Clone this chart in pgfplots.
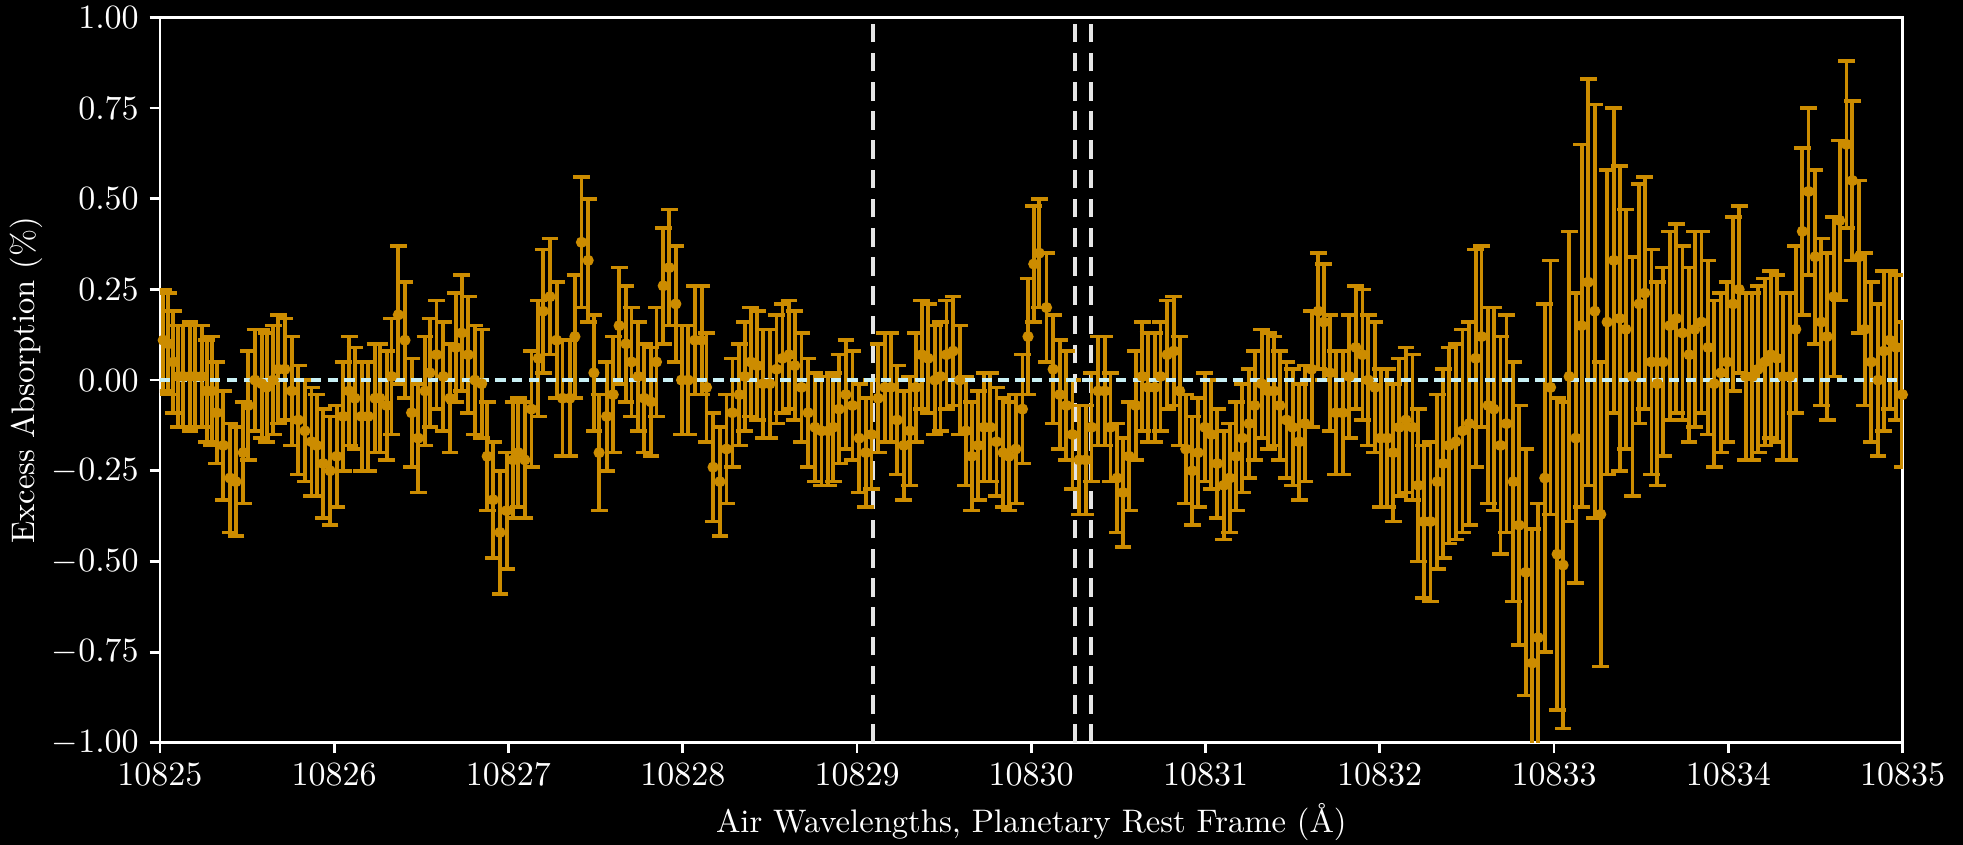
\documentclass[border=0pt]{standalone}
\usepackage{pgfplots}
\pgfplotsset{compat=1.18}
\usepackage{pgfplotstable}
\definecolor{barorange}{HTML}{CC8C00}
\definecolor{zerocyan}{HTML}{C8F0F5}
\definecolor{vline}{HTML}{E6E6E6}
\pgfplotstableread{
x y e
10825.019 0.11 0.14
10825.048 0.10 0.14
10825.077 0.05 0.14
10825.106 0.01 0.14
10825.134 0.01 0.14
10825.172 0.01 0.15
10825.201 0.01 0.14
10825.239 0.01 0.14
10825.268 -0.03 0.14
10825.297 -0.03 0.15
10825.325 -0.09 0.14
10825.364 -0.18 0.15
10825.402 -0.27 0.15
10825.436 -0.28 0.15
10825.478 -0.20 0.14
10825.507 -0.07 0.15
10825.545 0.00 0.14
10825.584 -0.01 0.15
10825.612 -0.02 0.15
10825.650 0.00 0.15
10825.679 0.03 0.15
10825.717 0.03 0.14
10825.756 -0.03 0.15
10825.794 -0.11 0.15
10825.832 -0.14 0.14
10825.870 -0.17 0.15
10825.899 -0.18 0.14
10825.937 -0.23 0.15
10825.976 -0.25 0.15
10826.014 -0.21 0.14
10826.052 -0.10 0.15
10826.086 -0.03 0.15
10826.119 -0.05 0.14
10826.157 -0.10 0.15
10826.195 -0.10 0.15
10826.234 -0.05 0.15
10826.262 -0.05 0.15
10826.301 -0.07 0.15
10826.329 0.01 0.16
10826.368 0.18 0.19
10826.406 0.11 0.16
10826.444 -0.09 0.15
10826.482 -0.16 0.15
10826.521 -0.03 0.15
10826.549 0.02 0.15
10826.587 0.07 0.15
10826.626 0.01 0.15
10826.664 -0.05 0.15
10826.698 0.09 0.15
10826.731 0.13 0.16
10826.769 0.07 0.16
10826.807 0.00 0.15
10826.846 -0.01 0.15
10826.878 -0.21 0.15
10826.912 -0.33 0.16
10826.951 -0.42 0.17
10826.989 -0.36 0.16
10827.027 -0.22 0.16
10827.056 -0.20 0.15
10827.094 -0.22 0.16
10827.132 -0.08 0.16
10827.171 0.06 0.16
10827.199 0.19 0.17
10827.238 0.23 0.16
10827.276 0.11 0.16
10827.310 -0.05 0.16
10827.352 -0.05 0.16
10827.381 0.12 0.17
10827.419 0.38 0.18
10827.457 0.33 0.17
10827.490 0.02 0.16
10827.520 -0.20 0.16
10827.563 -0.10 0.15
10827.601 -0.04 0.16
10827.635 0.15 0.16
10827.674 0.10 0.16
10827.706 0.05 0.15
10827.744 0.01 0.15
10827.779 -0.05 0.15
10827.817 -0.06 0.15
10827.849 0.05 0.15
10827.888 0.26 0.16
10827.922 0.31 0.16
10827.960 0.21 0.16
10827.993 0.00 0.15
10828.031 0.00 0.15
10828.069 0.11 0.15
10828.108 0.11 0.15
10828.136 -0.02 0.15
10828.174 -0.24 0.15
10828.213 -0.28 0.15
10828.251 -0.19 0.15
10828.285 -0.09 0.15
10828.324 -0.04 0.14
10828.356 0.01 0.15
10828.390 0.05 0.15
10828.427 0.04 0.15
10828.461 -0.01 0.15
10828.500 -0.01 0.15
10828.538 0.03 0.15
10828.572 0.06 0.15
10828.610 0.07 0.15
10828.643 0.04 0.15
10828.681 -0.02 0.15
10828.719 -0.09 0.15
10828.758 -0.13 0.15
10828.796 -0.14 0.15
10828.834 -0.14 0.15
10828.863 -0.13 0.15
10828.897 -0.08 0.15
10828.936 -0.04 0.15
10828.974 -0.07 0.15
10829.012 -0.16 0.15
10829.050 -0.20 0.15
10829.083 -0.15 0.15
10829.121 -0.05 0.15
10829.159 -0.02 0.15
10829.194 -0.02 0.15
10829.230 -0.11 0.15
10829.268 -0.18 0.15
10829.303 -0.14 0.15
10829.337 -0.02 0.15
10829.371 0.07 0.15
10829.408 0.06 0.15
10829.446 0.00 0.15
10829.479 0.01 0.15
10829.513 0.07 0.15
10829.551 0.08 0.15
10829.589 0.00 0.15
10829.624 -0.14 0.15
10829.658 -0.21 0.15
10829.695 -0.18 0.15
10829.729 -0.13 0.15
10829.765 -0.13 0.15
10829.800 -0.17 0.15
10829.838 -0.20 0.15
10829.872 -0.21 0.15
10829.911 -0.19 0.15
10829.949 -0.08 0.15
10829.981 0.12 0.16
10830.014 0.32 0.16
10830.045 0.35 0.15
10830.087 0.20 0.15
10830.125 0.03 0.15
10830.163 -0.04 0.15
10830.201 -0.07 0.15
10830.236 -0.15 0.15
10830.274 -0.22 0.15
10830.312 -0.22 0.15
10830.345 -0.13 0.15
10830.383 -0.03 0.15
10830.421 -0.03 0.15
10830.454 -0.13 0.15
10830.492 -0.27 0.15
10830.526 -0.31 0.15
10830.561 -0.21 0.15
10830.599 -0.07 0.15
10830.637 0.01 0.15
10830.670 -0.02 0.15
10830.708 -0.02 0.15
10830.741 0.01 0.15
10830.779 0.07 0.15
10830.817 0.08 0.15
10830.851 -0.03 0.15
10830.886 -0.19 0.15
10830.924 -0.25 0.15
10830.957 -0.20 0.15
10830.995 -0.13 0.15
10831.033 -0.15 0.15
10831.067 -0.23 0.15
10831.104 -0.29 0.15
10831.138 -0.27 0.15
10831.176 -0.21 0.15
10831.211 -0.16 0.15
10831.249 -0.12 0.15
10831.282 -0.07 0.15
10831.321 -0.01 0.15
10831.359 -0.03 0.16
10831.392 -0.03 0.15
10831.426 -0.07 0.15
10831.464 -0.11 0.16
10831.499 -0.13 0.16
10831.537 -0.17 0.16
10831.570 -0.12 0.16
10831.608 0.03 0.16
10831.646 0.19 0.16
10831.678 0.16 0.16
10831.713 0.02 0.16
10831.747 -0.09 0.17
10831.786 -0.09 0.17
10831.824 0.01 0.17
10831.862 0.09 0.17
10831.900 0.07 0.18
10831.933 0.00 0.18
10831.971 -0.02 0.18
10832.004 -0.16 0.19
10832.042 -0.16 0.19
10832.076 -0.20 0.19
10832.111 -0.13 0.19
10832.149 -0.11 0.20
10832.187 -0.13 0.20
10832.220 -0.29 0.21
10832.252 -0.39 0.21
10832.290 -0.39 0.22
10832.329 -0.28 0.24
10832.363 -0.23 0.26
10832.397 -0.18 0.27
10832.436 -0.17 0.27
10832.474 -0.14 0.28
10832.512 -0.12 0.28
10832.550 0.06 0.30
10832.583 0.12 0.25
10832.621 -0.07 0.27
10832.654 -0.08 0.28
10832.692 -0.18 0.30
10832.726 -0.12 0.30
10832.765 -0.28 0.33
10832.799 -0.40 0.33
10832.837 -0.53 0.34
10832.875 -0.78 0.37
10832.908 -0.71 0.37
10832.946 -0.27 0.48
10832.979 -0.02 0.35
10833.017 -0.48 0.43
10833.051 -0.51 0.45
10833.086 0.01 0.40
10833.124 -0.16 0.40
10833.157 0.15 0.50
10833.195 0.27 0.56
10833.233 0.19 0.57
10833.267 -0.37 0.42
10833.304 0.16 0.42
10833.342 0.33 0.42
10833.376 0.17 0.42
10833.411 0.14 0.33
10833.449 0.01 0.33
10833.487 0.21 0.33
10833.520 0.24 0.32
10833.558 0.05 0.31
10833.592 -0.01 0.28
10833.625 0.05 0.26
10833.663 0.15 0.26
10833.701 0.17 0.26
10833.736 0.13 0.24
10833.774 0.07 0.24
10833.807 0.14 0.27
10833.845 0.16 0.25
10833.883 0.09 0.24
10833.918 -0.01 0.23
10833.956 0.02 0.22
10833.992 0.05 0.22
10834.027 0.21 0.24
10834.061 0.25 0.23
10834.099 0.01 0.23
10834.137 0.01 0.23
10834.170 0.03 0.23
10834.208 0.05 0.23
10834.243 0.07 0.23
10834.279 0.06 0.23
10834.313 0.01 0.23
10834.352 0.01 0.23
10834.386 0.14 0.23
10834.424 0.41 0.23
10834.459 0.52 0.23
10834.497 0.34 0.24
10834.533 0.16 0.23
10834.566 0.12 0.23
10834.604 0.23 0.22
10834.638 0.44 0.22
10834.677 0.65 0.23
10834.711 0.55 0.22
10834.749 0.34 0.21
10834.782 0.14 0.21
10834.820 0.05 0.22
10834.858 0.00 0.21
10834.891 0.08 0.22
10834.925 0.11 0.19
10834.963 0.09 0.20
10834.998 -0.04 0.20
}\spec
\begin{document}
\begin{tikzpicture}
\path[use as bounding box, fill=black] (-51.5pt,-32.9pt) rectangle (580.6pt,239.2pt);
\begin{axis}[
  at={(0,0)}, anchor=south west,
  scale only axis, width=561.2pt, height=233.6pt,
  xmin=10825, xmax=10835, ymin=-1, ymax=1,
  xtick={10825,10826,...,10835},
  ytick={-1,-0.75,...,1},
  scaled ticks=false,
  x tick label style={/pgf/number format/.cd, 1000 sep={}, precision=0},
  y tick label style={/pgf/number format/.cd, fixed, fixed zerofill, precision=2},
  tick label style={color=white, font=\fontsize{10.9pt}{13pt}\selectfont},
  label style={color=white, font=\fontsize{10.5pt}{12.6pt}\selectfont},
  xlabel style={at={(axis description cs:0.5,0)}, anchor=center, yshift=-25.4pt},
  ylabel style={at={(axis description cs:-0.0765,0.5)}, anchor=center},
  axis line style={white, line width=0.9pt},
  tick style={white, line width=0.9pt},
  tick align=outside,
  major tick length=3.3pt,
  xtick pos=bottom, ytick pos=left,
  minor tick num=0,
  axis background/.style={fill=black},
  clip mode=global,
  xlabel={Air Wavelengths, Planetary Rest Frame (\AA)},
  ylabel={Excess Absorption (\%)},
]
\addplot[vline, line width=1.3pt, dash pattern=on 6pt off 3.4pt] coordinates {(10829.09,-1) (10829.09,1)};
\addplot[vline, line width=1.3pt, dash pattern=on 6pt off 3.4pt] coordinates {(10830.25,-1) (10830.25,1)};
\addplot[vline, line width=1.3pt, dash pattern=on 6pt off 3.4pt] coordinates {(10830.34,-1) (10830.34,1)};
\addplot[only marks, mark=*, mark size=1.6pt, color=barorange,
  mark options={fill=barorange, draw=barorange},
  error bars/.cd, y dir=both, y explicit,
  error bar style={line width=1.25pt, color=barorange},
  error mark options={rotate=90, mark size=2.7pt, line width=1.15pt, color=barorange}]
  table[x=x, y=y, y error=e] {\spec};
\addplot[zerocyan, line width=1.4pt, dash pattern=on 3.3pt off 2.1pt] coordinates {(10825,0) (10835,0)};
\end{axis}
\end{tikzpicture}
\end{document}
